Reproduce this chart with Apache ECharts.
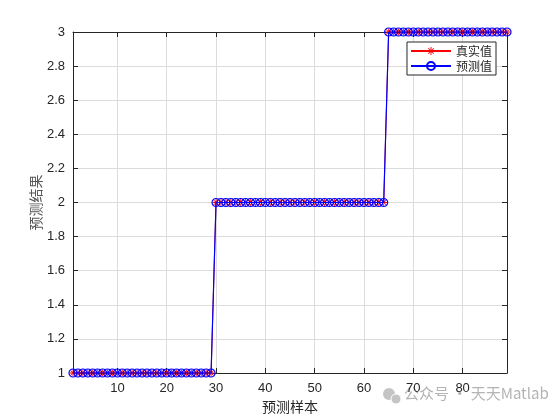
<!DOCTYPE html>
<html>
<head>
<meta charset="utf-8">
<script src="https://cdn.jsdelivr.net/npm/echarts@6/dist/echarts.min.js"></script>
<style>html,body{margin:0;padding:0;background:#fff}#c{width:560px;height:420px}</style>
</head>
<body>
<div id="c"></div>
<script>
// Data
const trueValues = [
  1,1,1,1,1,1,1,1,1,1, 1,1,1,1,1,1,1,1,1,1, 1,1,1,1,1,1,1,1,1,
  2,2,2,2,2,2,2,2,2,2, 2,2,2,2,2,2,2,2,2,2, 2,2,2,2,2,2,2,2,2,2, 2,2,2,2,2,
  3,3,3,3,3,3,3,3,3,3, 3,3,3,3,3,3,3,3,3,3, 3,3,3,3,3
];
const predValues = [
  1,1,1,1,1,1,1,1,1,1, 1,1,1,1,1,1,1,1,1,1, 1,1,1,1,1,1,1,1,1,
  2,2,2,2,2,2,2,2,2,2, 2,2,2,2,2,2,2,2,2,2, 2,2,2,2,2,2,2,2,2,2, 2,2,2,2,2,
  3,3,3,3,3,3,3,3,3,3, 3,3,3,3,3,3,3,3,3,3, 3,3,3,3,3
];
const xTicks = [10, 20, 30, 40, 50, 60, 70, 80];
const seriesNames = ['真实值', '预测值'];
const xName = '预测样本';
const yName = '预测结果';
const watermark = '公众号 · 天天Matlab';

const toXY = arr => arr.map((v, i) => [i + 1, v]);
// filled asterisk made of thin bars
const asterisk = 'path://M-0.6,-5L0.6,-5L0.6,5L-0.6,5Z' +
  'M-5,-0.6L5,-0.6L5,0.6L-5,0.6Z' +
  'M-3.9,-3.1L-3.1,-3.9L3.9,3.1L3.1,3.9Z' +
  'M-3.9,3.1L-3.1,3.9L3.9,-3.1L3.1,-3.9Z';
const labelColor = '#262626';
const fontFam = 'Liberation Sans, Arial, sans-serif';
const cjk = '"Noto Sans CJK SC", sans-serif';

const chart = echarts.init(document.getElementById('c'));
chart.setOption({
  animation: false,
  backgroundColor: '#fff',
  grid: { left: 73, right: 53, top: 32, bottom: 47, containLabel: false },
  xAxis: [{
    type: 'value', min: 1, max: trueValues.length,
    axisLine: { show: true, onZero: false, lineStyle: { color: '#262626', width: 1 } },
    axisTick: { show: true, inside: true, length: 5, customValues: xTicks, lineStyle: { color: '#262626' } },
    axisLabel: { customValues: xTicks, color: labelColor, fontSize: 13, fontFamily: fontFam, margin: 9 },
    splitLine: { show: true, customValues: xTicks, lineStyle: { color: '#dcdcdc', width: 1 } },
    name: xName, nameLocation: 'middle', nameGap: 27,
    nameTextStyle: { color: labelColor, fontSize: 14, fontFamily: cjk }
  }, {
    type: 'value', min: 1, max: trueValues.length, position: 'top',
    axisLine: { show: true, onZero: false, lineStyle: { color: '#262626', width: 1 } },
    axisTick: { show: true, inside: true, length: 5, customValues: xTicks, lineStyle: { color: '#262626' } },
    axisLabel: { show: false, customValues: xTicks },
    splitLine: { show: false }
  }],
  yAxis: [{
    type: 'value', min: 1, max: 3, interval: 0.2,
    axisLine: { show: true, onZero: false, lineStyle: { color: '#262626', width: 1 } },
    axisTick: { show: true, inside: true, length: 5, lineStyle: { color: '#262626' } },
    axisLabel: { color: labelColor, fontSize: 13, fontFamily: fontFam, margin: 8,
      formatter: v => String(Math.round(v * 10) / 10) },
    splitLine: { show: true, lineStyle: { color: '#dcdcdc', width: 1 } },
    name: yName, nameLocation: 'middle', nameGap: 30, nameRotate: 90, nameMoveOverlap: false,
    nameTextStyle: { color: '#555', fontSize: 14, fontFamily: cjk }
  }, {
    type: 'value', min: 1, max: 3, interval: 0.2, position: 'right',
    axisLine: { show: true, onZero: false, lineStyle: { color: '#262626', width: 1 } },
    axisTick: { show: true, inside: true, length: 5, lineStyle: { color: '#262626' } },
    axisLabel: { show: false },
    splitLine: { show: false }
  }],
  legend: {
    orient: 'vertical', right: 64, top: 42,
    backgroundColor: '#fff', borderColor: '#262626', borderWidth: 1, borderRadius: 0,
    padding: [3, 4, 3, 3], itemGap: 3, itemWidth: 40, itemHeight: 10,
    textStyle: { color: labelColor, fontSize: 12, fontFamily: cjk },
    data: seriesNames
  },
  series: [{
    name: seriesNames[0], type: 'line', data: toXY(trueValues),
    symbol: asterisk, symbolSize: 7,
    lineStyle: { color: '#ff0000', width: 1 },
    itemStyle: { color: '#ff0000', borderWidth: 0 },
    z: 2
  }, {
    name: seriesNames[1], type: 'line', data: toXY(predValues),
    symbol: 'circle', symbolSize: 8,
    lineStyle: { color: '#0000ff', width: 1.2 },
    itemStyle: { color: 'rgba(0,0,0,0)', borderColor: '#0000ff', borderWidth: 1.2 },
    z: 3
  }],
  graphic: [{
    type: 'circle', silent: true, shape: { cx: 389, cy: 394, r: 6 },
    style: { fill: '#c4c4c4' }
  }, {
    type: 'circle', silent: true, shape: { cx: 396, cy: 399, r: 5 },
    style: { fill: '#c4c4c4', stroke: '#fff', lineWidth: 1 }
  }, {
    type: 'text', left: 404, top: 386, silent: true,
    style: { text: watermark, fill: '#b4b4b4', fontSize: 15, fontFamily: cjk }
  }]
});
</script>
</body>
</html>
